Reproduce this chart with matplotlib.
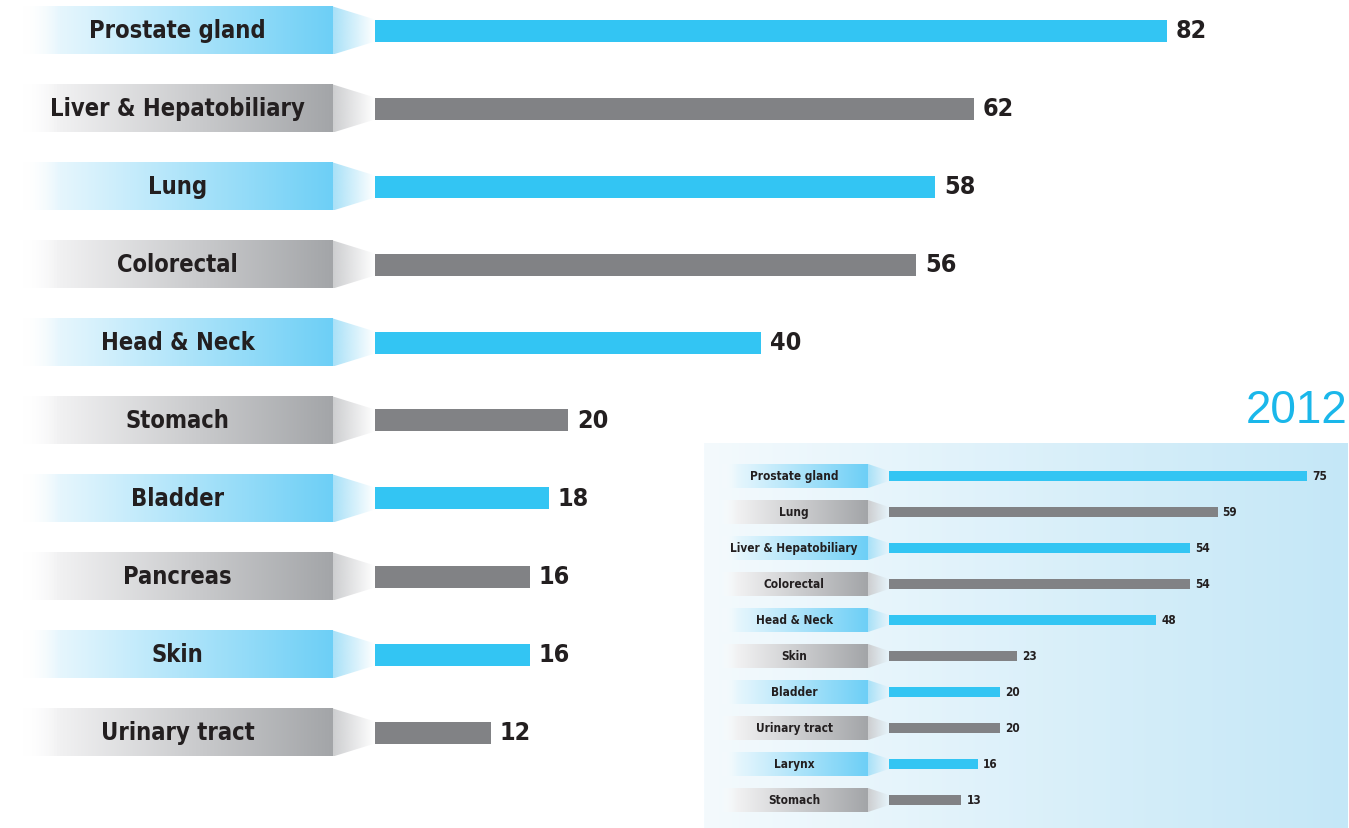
import numpy as np
import matplotlib
matplotlib.use("Agg")
import matplotlib.pyplot as plt
from matplotlib.patches import Polygon
from matplotlib.colors import to_rgb
from matplotlib import font_manager as fm

names = {f.name for f in fm.fontManager.ttflist}
if 'Liberation Sans Narrow' in names:
    COND = dict(family=['Liberation Sans Narrow', 'DejaVu Sans'])
else:
    COND = dict(family=['DejaVu Sans'], fontstretch='condensed')

# ---------------- data ----------------
main_categories = ["Prostate gland", "Liver & Hepatobiliary", "Lung", "Colorectal",
                   "Head & Neck", "Stomach", "Bladder", "Pancreas", "Skin", "Urinary tract"]
main_values = [82, 62, 58, 56, 40, 20, 18, 16, 16, 12]

inset_title = "2012"
inset_categories = ["Prostate gland", "Lung", "Liver & Hepatobiliary", "Colorectal",
                    "Head & Neck", "Skin", "Bladder", "Urinary tract", "Larynx", "Stomach"]
inset_values = [75, 59, 54, 54, 48, 23, 20, 20, 16, 13]

BLUE = "#33C5F3"
GRAY = "#818285"
TAB_BLUE = ("#E6F6FD", "#6DCFF6")
TAB_GRAY = ("#F1F1F2", "#A3A5A8")
CON_BLUE = "#A8E1F8"
CON_GRAY = "#CDCED0"
TEXT = "#231F20"

W, H = 1349, 829
fig = plt.figure(figsize=(W / 100, H / 100), dpi=100)


def grad_img(stops, n=256):
    t = np.linspace(0, 1, n)
    ts = [s[0] for s in stops]
    cols = np.array([to_rgb(s[1]) for s in stops])
    als = np.array([s[2] for s in stops])
    rgb = np.stack([np.interp(t, ts, cols[:, k]) for k in range(3)], axis=1)
    a = np.interp(t, ts, als)
    return np.concatenate([rgb, a[:, None]], axis=1)[None, :, :]


def hgrad(ax, x0, x1, y0, y1, stops, clip=None, z=1):
    im = ax.imshow(grad_img(stops), extent=(x0, x1, y1, y0), aspect='auto', origin='upper',
                   interpolation='bilinear', zorder=z)
    if clip is not None:
        im.set_clip_path(clip)
    return im


def draw_panel(ax, cats, vals, tab_x0, tab_x1, tab_h, bar_h, fs_label, fs_val, val_pad):
    ys = np.arange(len(cats))
    colors = [BLUE if i % 2 == 0 else GRAY for i in range(len(cats))]
    ax.barh(ys, vals, height=bar_h, color=colors, zorder=3)
    for i, (y, c, v) in enumerate(zip(ys, cats, vals)):
        tc = TAB_BLUE if i % 2 == 0 else TAB_GRAY
        cc = CON_BLUE if i % 2 == 0 else CON_GRAY
        hgrad(ax, tab_x0, tab_x1, y - tab_h / 2, y + tab_h / 2,
              [(0, "#FFFFFF", 0.0), (0.12, tc[0], 1.0), (1, tc[1], 1.0)], z=2)
        poly = Polygon([(tab_x1, y - tab_h / 2), (0, y - bar_h / 2),
                        (0, y + bar_h / 2), (tab_x1, y + tab_h / 2)],
                       closed=True, facecolor='none', edgecolor='none', transform=ax.transData)
        ax.add_patch(poly)
        hgrad(ax, tab_x1, 0, y - tab_h / 2, y + tab_h / 2,
              [(0, cc, 1.0), (1, cc, 0.0)], clip=poly, z=2)
        ax.text((tab_x0 + tab_x1) / 2, y, c, ha='center', va='center', fontsize=fs_label,
                fontweight='bold', color=TEXT, zorder=4, **COND)
        ax.text(v + val_pad, y, str(v), ha='left', va='center', fontsize=fs_val,
                fontweight='bold', color=TEXT, zorder=4, **COND)
    ax.axis('off')


# ---------------- main panel ----------------
sx = 9.66
x0_px = 375
row = 78.0
r0_px = 31.5
ax = fig.add_axes([0, 0, 1, 1])
draw_panel(ax, main_categories, main_values,
           tab_x0=(22 - x0_px) / sx, tab_x1=(333 - x0_px) / sx,
           tab_h=48 / row, bar_h=22 / row, fs_label=17, fs_val=18, val_pad=9 / sx)
ax.set_xlim(-x0_px / sx, (W - x0_px) / sx)
ax.set_ylim((H - r0_px) / row, -r0_px / row)

# ---------------- inset panel ----------------
ix0, ix1, iy0, iy1 = 704, 1347, 444, 829
ax2 = fig.add_axes([ix0 / W, 1 - iy1 / H, (ix1 - ix0) / W, (iy1 - iy0) / H])
sx2 = 5.57
bx = 889
row2 = 36.0
r02 = 477.0
xl = ((ix0 - bx) / sx2, (ix1 - bx) / sx2)
yl = ((iy1 - r02) / row2, (iy0 - r02) / row2)
hgrad(ax2, xl[0], xl[1], yl[1], yl[0], [(0, "#F4FAFD", 1), (1, "#C4E7F7", 1)], z=0)
draw_panel(ax2, inset_categories, inset_values,
           tab_x0=(720 - bx) / sx2, tab_x1=(868 - bx) / sx2,
           tab_h=24 / row2, bar_h=10 / row2, fs_label=8.5, fs_val=8.5, val_pad=5 / sx2)
ax2.set_xlim(*xl)
ax2.set_ylim(*yl)

fig.text(1347 / W, 1 - 423 / H, inset_title, ha='right', va='baseline', fontsize=33,
         color="#1AB7EA", family=['Liberation Sans', 'DejaVu Sans'])

fig.savefig("out.png", dpi=100)
